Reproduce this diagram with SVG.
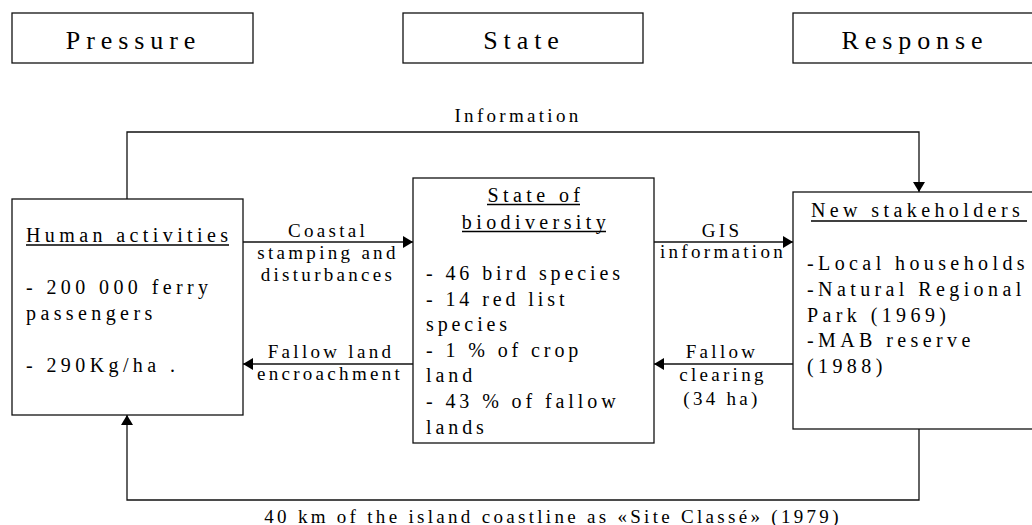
<svg xmlns="http://www.w3.org/2000/svg" width="1032" height="525" viewBox="0 0 1032 525">
<style>
text{font-family:"Liberation Serif","Times New Roman",serif;fill:#000}
.box{fill:#fff;stroke:#111;stroke-width:1.3}
.ln{fill:none;stroke:#111;stroke-width:1.3}
.ul{stroke:#000;stroke-width:1.4}
.hdr{font-size:26px;letter-spacing:5.9px;text-anchor:middle}
.body{font-size:20px;letter-spacing:4.4px}
.mid{letter-spacing:3.9px}
.lbl{font-size:19px;letter-spacing:3.3px;text-anchor:middle}
</style>
<defs>
<marker id="ah" viewBox="0 0 10 12" refX="10" refY="6" markerWidth="10" markerHeight="12" markerUnits="userSpaceOnUse" orient="auto">
<path d="M0,0 L10,6 L0,12 Z" fill="#000"/>
</marker>
</defs>
<rect width="1032" height="525" fill="#fff"/>

<g id="hdr-pressure">
<rect class="box" x="12" y="13" width="241" height="50"/>
<text class="hdr" x="133.5" y="49">Pressure</text>
</g>
<g id="hdr-state">
<rect class="box" x="403" y="13" width="240" height="50"/>
<text class="hdr" x="524" y="49">State</text>
</g>
<g id="hdr-response">
<rect class="box" x="793" y="13" width="243" height="50"/>
<text class="hdr" x="915" y="49">Response</text>
</g>

<g id="connectors">
<path class="ln" d="M127,199 V132 H919 V192" marker-end="url(#ah)"/>
<path class="ln" d="M919,429 V500 H127 V415" marker-end="url(#ah)"/>
<path class="ln" d="M243,242 H413" marker-end="url(#ah)"/>
<path class="ln" d="M413,364 H243" marker-end="url(#ah)"/>
<path class="ln" d="M654,242 H793" marker-end="url(#ah)"/>
<path class="ln" d="M793,364 H654" marker-end="url(#ah)"/>
<text class="lbl" x="518" y="122">Information</text>
<text class="lbl" x="553" y="523">40 km of the island coastline as «Site Classé» (1979)</text>
<text class="lbl" x="328" y="237">Coastal</text>
<text class="lbl" x="328" y="259">stamping and</text>
<text class="lbl" x="328" y="281">disturbances</text>
<text class="lbl" x="331" y="358">Fallow land</text>
<text class="lbl" x="330" y="380">encroachment</text>
<text class="lbl" x="722" y="237">GIS</text>
<text class="lbl" x="723" y="258">information</text>
<text class="lbl" x="722" y="358">Fallow</text>
<text class="lbl" x="723" y="381">clearing</text>
<text class="lbl" x="722" y="405">(34 ha)</text>
</g>

<g id="human-activities">
<rect class="box" x="12" y="199" width="231" height="216"/>
<text class="body" x="26" y="242">Human activities</text>
<line class="ul" x1="26" y1="245" x2="229" y2="245"/>
<text class="body" x="26" y="294">- 200 000 ferry</text>
<text class="body" x="26" y="320">passengers</text>
<text class="body" x="26" y="372">- 290Kg/ha .</text>
</g>

<g id="state-of-biodiversity">
<rect class="box" x="413" y="178" width="241" height="265"/>
<text class="body" x="536" y="202" text-anchor="middle">State of</text>
<line class="ul" x1="487" y1="204.5" x2="580" y2="204.5"/>
<text class="body" x="536" y="229" text-anchor="middle">biodiversity</text>
<line class="ul" x1="462" y1="231.5" x2="606" y2="231.5"/>
<text class="body mid" x="426" y="280">- 46 bird species</text>
<text class="body mid" x="426" y="306">- 14 red list</text>
<text class="body mid" x="426" y="331">species</text>
<text class="body mid" x="426" y="357">- 1 % of crop</text>
<text class="body mid" x="426" y="382">land</text>
<text class="body mid" x="426" y="408">- 43 % of fallow</text>
<text class="body mid" x="426" y="434">lands</text>
</g>

<g id="new-stakeholders">
<rect class="box" x="793" y="192" width="245" height="237"/>
<text class="body" x="811" y="217">New stakeholders</text>
<line class="ul" x1="811" y1="221" x2="1027" y2="221"/>
<text class="body" x="807" y="270">-Local households</text>
<text class="body" x="807" y="296">-Natural Regional</text>
<text class="body" x="807" y="322">Park (1969)</text>
<text class="body" x="807" y="347">-MAB reserve</text>
<text class="body" x="807" y="373">(1988)</text>
</g>
</svg>
